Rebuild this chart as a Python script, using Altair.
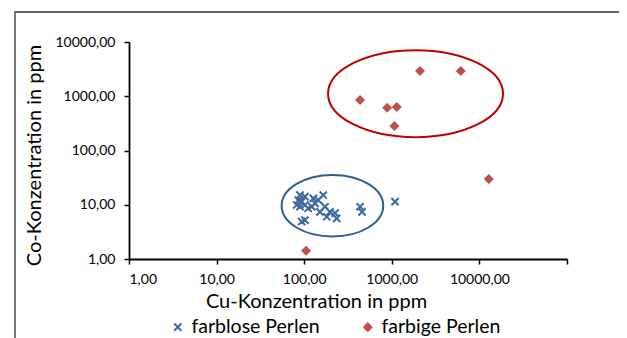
import altair as alt
import pandas as pd

# --- data ---
cu_farblos = [89.5, 102, 85.7, 93.6, 82, 89.5, 102, 111, 122, 133, 145, 165,
              127, 173, 151, 197, 225, 235, 181, 102, 93.6, 434, 457, 1088]
co_farblos = [15.1, 14.1, 12.2, 11.4, 9.9, 9.2, 9.9, 8.6, 9.2, 10.6, 12.2, 15.1,
              13.1, 9.2, 7.4, 7.4, 7.0, 5.6, 6.0, 5.2, 4.9, 9.2, 7.4, 11.4]
cu_farbig = [434, 886, 1140, 1070, 2100, 6130, 12800, 105]
co_farbig = [853, 615, 634, 283, 2920, 2920, 29.8, 1.42]

series_names = ["farblose Perlen", "farbige Perlen"]
series_colors = ["#3C68A0", "#C0504D"]
series_fills = ["transparent", "#C0504D"]

x_ticks = [1, 10, 100, 1000, 10000, 100000]
y_ticks = [1, 10, 100, 1000, 10000]

# annotation ellipses (centres in data units)
ell_cu = [1866, 210]
ell_co = [1114, 9.6]

W, H = 438, 217

rows = ([{"Cu": a, "Co": b, "Serie": series_names[0]} for a, b in zip(cu_farblos, co_farblos)] +
        [{"Cu": a, "Co": b, "Serie": series_names[1]} for a, b in zip(cu_farbig, co_farbig)])
df = pd.DataFrame(rows)


def ellipse_path(ratio):
    k = 0.5523
    b = ratio
    return (f"M -1 0 C -1 {-k*b:.4f} {-k:.4f} {-b:.4f} 0 {-b:.4f} "
            f"C {k:.4f} {-b:.4f} 1 {-k*b:.4f} 1 0 "
            f"C 1 {k*b:.4f} {k:.4f} {b:.4f} 0 {b:.4f} "
            f"C {-k:.4f} {b:.4f} -1 {k*b:.4f} -1 0 Z")


xcross = "M -1 -1 L 1 1 M 1 -1 L -1 1"

label_expr = "replace(format(datum.value, '.2f'), '.', ',')"

xscale = alt.Scale(type="log", domain=[1, 100000], nice=False)
yscale = alt.Scale(type="log", domain=[1, 10000], nice=False)

xenc = alt.X("Cu:Q", scale=xscale,
             axis=alt.Axis(values=x_ticks, labelExpr=label_expr,
                           title="Cu-Konzentration in ppm", titleX=187, titleAlign="center"))
yenc = alt.Y("Co:Q", scale=yscale,
             axis=alt.Axis(values=y_ticks, labelExpr=label_expr,
                           title="Co-Konzentration in ppm", titleY=113, titleAlign="center"))

frame = alt.Chart(pd.DataFrame({"a": [0]})).mark_rect(
    fillOpacity=0, stroke="#333333", strokeWidth=1.3
).encode(x=alt.value(-114), x2=alt.value(1000), y=alt.value(-30), y2=alt.value(1000))

points = alt.Chart(df).mark_point(strokeWidth=2, opacity=1, size=52).encode(
    x=xenc,
    y=yenc,
    color=alt.Color("Serie:N", scale=alt.Scale(domain=series_names, range=series_colors),
                    legend=alt.Legend(title=None)),
    fill=alt.Fill("Serie:N", scale=alt.Scale(domain=series_names, range=series_fills),
                  legend=alt.Legend(title=None)),
    shape=alt.Shape("Serie:N", scale=alt.Scale(domain=series_names, range=[xcross, "diamond"]),
                    legend=alt.Legend(title=None)),
)

red_ell = alt.Chart(pd.DataFrame({"Cu": [ell_cu[0]], "Co": [ell_co[0]]})).mark_point(
    shape=ellipse_path(43.5 / 87.5), size=(2 * 87.5) ** 2, filled=False,
    stroke="#C00000", strokeWidth=2, opacity=1
).encode(x="Cu:Q", y="Co:Q")

blue_ell = alt.Chart(pd.DataFrame({"Cu": [ell_cu[1]], "Co": [ell_co[1]]})).mark_point(
    shape=ellipse_path(30.8 / 50.8), size=(2 * 50.8) ** 2, filled=False,
    stroke="#2F5D93", strokeWidth=2, opacity=1
).encode(x="Cu:Q", y="Co:Q")

chart = alt.layer(frame, red_ell, blue_ell, points).properties(
    width=W, height=H,
    autosize=alt.AutoSizeParams(type="none"),
    padding={"left": 121, "top": 34, "right": 52, "bottom": 79},
).configure_view(strokeWidth=0).configure_axis(
    grid=False,
    domainColor="#000000", domainWidth=1.8,
    tickColor="#000000", tickWidth=1.5, tickSize=5,
    labelFont="Lato", labelFontSize=14, labelColor="#000000",
    titleFont="Lato", titleFontSize=20, titleFontWeight="normal", titleColor="#000000",
).configure_axisX(labelPadding=8, titlePadding=5).configure_axisY(
    labelPadding=9, titlePadding=10
).configure_legend(
    orient="none", legendX=39, legendY=275, direction="horizontal",
    labelFont="Lato", labelFontSize=19.5, labelColor="#000000",
    symbolStrokeWidth=2, symbolSize=52, columnPadding=38, labelOffset=4,
)

chart.save("out.html", embed_options={"renderer": "svg", "actions": False})
